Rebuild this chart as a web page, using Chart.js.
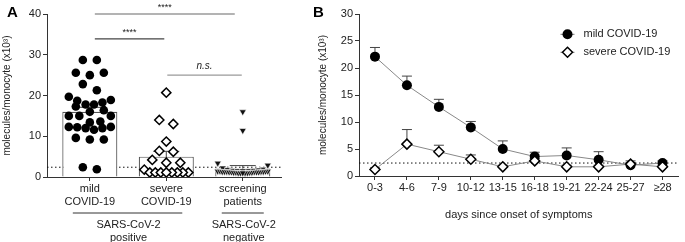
<!DOCTYPE html>
<html><head><meta charset="utf-8">
<script src="https://cdn.jsdelivr.net/npm/chart.js@4.4.1/dist/chart.umd.min.js"></script>
<style>
html,body{margin:0;padding:0;background:#fff;width:685px;height:242px;overflow:hidden;}
#wrapA{position:absolute;left:0;top:0;width:292px;height:242px;}
#wrapB{position:absolute;left:305px;top:0;width:380px;height:242px;}
.panel{position:absolute;font:bold 15px 'Liberation Sans',Arial,sans-serif;color:#000;line-height:15px;}
</style></head><body>
<div id="wrapA"><canvas id="chartA" width="292" height="242"></canvas></div>
<div id="wrapB"><canvas id="chartB" width="380" height="242"></canvas></div>
<div class="panel" style="left:7px;top:4px">A</div>
<div class="panel" style="left:313px;top:4px">B</div>
<script>
// ---------- Panel A data ----------
const groupLabelsA = [['mild','COVID-19'],['severe','COVID-19'],['screening','patients']];
const groupIndexA = [0, 1, 2];
const mildValues = [28.7,28.7,25.6,25.6,25.0,22.8,21.3,19.7,18.9,18.7,18.3,17.8,17.8,17.3,16.4,16.0,15.0,15.0,15.0,13.6,13.4,12.3,12.3,12.2,12.0,12.0,11.6,9.6,9.2,9.2,2.4,1.9];
const severeValues = [20.7,14.0,13.0,8.7,6.4,6.2,4.2,3.5,3.5,1.8,1.1,1.1,1.1,1.1,1.1,1.1,1.1,1.1];
const screeningValues = [16.0,11.4,3.4,2.9,2.2,1.9,1.8,1.7,1.6,1.6,1.5,1.5,1.5,1.4,1.4,1.4,1.4,1.3,1.3,1.3,1.3,1.3,1.2,1.2,1.2,1.2,1.2,1.1,1.1,1.1,1.1,1.0,1.0,1.0,1.0,1.0];
const barMeansA = [16.0, 5.0, 2.1];
const barSemA = [1.1, 1.3, 0.7];
const yTicksA = [0, 10, 20, 30, 40];
const detectionLimit = 2.4;
const comparisonsA = [
  {from:0, to:2, y:40, label:'****'},
  {from:0, to:1, y:33.9, label:'****'},
  {from:1, to:2, y:25, label:'n.s.'}
];
const groupHeadersA = [
  {from:0, to:1, lines:['SARS-CoV-2','positive']},
  {from:2, to:2, lines:['SARS-CoV-2','negative']}
];

// ---------- Panel B data ----------
const dayLabels = ['0-3','4-6','7-9','10-12','13-15','16-18','19-21','22-24','25-27','\u226528'];
const mildMeanB = [22.1,16.8,12.8,9.0,5.0,3.6,3.8,3.0,2.0,2.4];
const mildSemB  = [1.7,1.7,1.4,1.1,1.5,0.8,1.4,1.5,0.8,0.4];
const severeMeanB = [1.2,5.9,4.5,3.1,1.7,2.8,1.7,1.7,2.2,1.7];
const severeSemB  = [0.3,2.7,1.2,0.8,0.3,0.4,0.3,0.3,0.3,0.2];
const yTicksB = [0, 5, 10, 15, 20, 25, 30];
const seriesNamesB = ['mild COVID-19','severe COVID-19'];

const FONT = "'Liberation Sans', Arial, Helvetica, sans-serif";
Chart.defaults.font.family = FONT;
Chart.defaults.color = '#222';
const AXIS = '#333';

function dottedLine(chart, value) {
  const {ctx, chartArea} = chart;
  const y = chart.scales.y.getPixelForValue(value);
  ctx.save();
  ctx.strokeStyle = '#111';
  ctx.lineWidth = 1;
  ctx.setLineDash([1.5, 2.5]);
  ctx.beginPath();
  ctx.moveTo(chartArea.left, y);
  ctx.lineTo(chartArea.right, y);
  ctx.stroke();
  ctx.restore();
}

// ---------- Panel A ----------
const plugA = {
  id: 'annotA',
  beforeDatasetsDraw(chart) { dottedLine(chart, detectionLimit); },
  afterDatasetDraw(chart, args) {
    if (args.index !== 0) return;
    const {ctx} = chart; const xs = chart.scales.x, ys = chart.scales.y;
    ctx.save();
    ctx.strokeStyle = '#444'; ctx.lineWidth = 1;
    barMeansA.forEach((m, i) => {
      const x = xs.getPixelForValue(groupIndexA[i]);
      const yt = ys.getPixelForValue(m + barSemA[i]);
      const yb = ys.getPixelForValue(m - barSemA[i]);
      ctx.beginPath();
      ctx.moveTo(x, yt); ctx.lineTo(x, yb);
      ctx.moveTo(x - 13, yt); ctx.lineTo(x + 13, yt);
      ctx.stroke();
    });
    ctx.restore();
  },
  afterDraw(chart) {
    const {ctx, chartArea} = chart; const xs = chart.scales.x, ys = chart.scales.y;
    ctx.save();
    comparisonsA.forEach((c, k) => {
      const y = ys.getPixelForValue(c.y);
      const x1 = xs.getPixelForValue(c.from) + (k === 2 ? 1 : 5);
      const x2 = xs.getPixelForValue(c.to) - (k === 0 ? 8 : (k === 1 ? 2 : 1));
      ctx.strokeStyle = k === 1 ? '#444' : '#9a9a9a';
      ctx.lineWidth = 1.3;
      ctx.beginPath(); ctx.moveTo(x1, y); ctx.lineTo(x2, y); ctx.stroke();
      ctx.fillStyle = '#222';
      ctx.textAlign = 'center'; ctx.textBaseline = 'middle';
      ctx.font = (c.label === 'n.s.' ? 'italic 10px ' : '9px ') + FONT;
      ctx.fillText(c.label, (x1 + x2) / 2, y - (c.label === 'n.s.' ? 9 : 6));
    });
    const lineY = chartArea.bottom + 36;
    groupHeadersA.forEach(g => {
      const a = xs.getPixelForValue(g.from), b = xs.getPixelForValue(g.to);
      const x1 = g.from === g.to ? a - 21 : a - 17;
      const x2 = g.from === g.to ? b + 21 : b + 16;
      ctx.strokeStyle = '#333'; ctx.lineWidth = 1;
      ctx.beginPath(); ctx.moveTo(x1, lineY); ctx.lineTo(x2, lineY); ctx.stroke();
      ctx.fillStyle = '#222'; ctx.font = '11px ' + FONT;
      ctx.textAlign = 'center'; ctx.textBaseline = 'middle';
      g.lines.forEach((t, j) => ctx.fillText(t, (x1 + x2) / 2 + 1, lineY + 12 + j * 12.5));
    });
    ctx.restore();
  }
};

const chartA = new Chart(document.getElementById('chartA'), {
  type: 'bar',
  data: {
    datasets: [
      { type:'bar', order:10, data: barMeansA.map((m,i)=>({x:groupIndexA[i], y:m})),
        backgroundColor:'#fff', borderColor:'#555', borderWidth:1.2,
        barPercentage:0.72, categoryPercentage:1 },
      { type:'scatter', order:1, data: mildValues.map(v=>({x:0,y:v})),
        pointStyle:'circle', pointRadius:4.3, backgroundColor:'#000', borderColor:'#000', borderWidth:0 },
      { type:'scatter', order:1, data: severeValues.map(v=>({x:1,y:v})),
        pointStyle:'rectRot', pointRadius:4.6, backgroundColor:'#fff', borderColor:'#000', borderWidth:1.5 },
      { type:'scatter', order:1, data: screeningValues.map(v=>({x:2,y:v})),
        pointStyle:'triangle', rotation:180, pointRadius:4, backgroundColor:'#111', borderColor:'#fff', borderWidth:0.6 }
    ]
  },
  options: {
    responsive:false, animation:false, devicePixelRatio:1,
    layout:{padding:{top:14, right:11, left:0, bottom:0}},
    plugins:{legend:{display:false}, tooltip:{enabled:false}},
    scales:{
      x:{ type:'linear', min:-0.56, max:2.5, offset:false,
        afterBuildTicks: s => { s.ticks = groupIndexA.map(v=>({value:v})); },
        afterFit: s => { s.height = 65; },
        ticks:{ callback: v => groupLabelsA[v], font:{size:11}, color:'#222', padding:1, maxRotation:0, autoSkip:false },
        grid:{ drawOnChartArea:false, drawTicks:true, tickLength:4, color:AXIS, offset:false },
        border:{ display:true, color:AXIS, width:1 } },
      y:{ min:0, max:40,
        afterBuildTicks: s => { s.ticks = yTicksA.map(v=>({value:v})); },
        afterFit: s => { s.width = 47; },
        ticks:{ font:{size:11}, color:'#222', padding:2 },
        grid:{ drawOnChartArea:false, tickLength:4, color:AXIS },
        border:{ display:true, color:AXIS, width:1 },
        title:{ display:true, text:'molecules/monocyte (x10\u00b3)', font:{size:10}, color:'#222', padding:{top:1,bottom:0} } }
    }
  },
  plugins:[plugA]
});

function swarmOffsets(values, spacing, maxHalf, rowPx, ys) {
  const order = values.map((v,i)=>i).sort((a,b)=>values[b]-values[a]);
  const rows = []; let cur = null;
  order.forEach(i => {
    const py = ys.getPixelForValue(values[i]);
    if (!cur || py - cur.py0 > rowPx) { cur = {py0:py, idx:[]}; rows.push(cur); }
    cur.idx.push(i);
  });
  const offs = new Array(values.length).fill(0);
  rows.forEach(r => {
    const n = r.idx.length;
    const step = n > 1 ? Math.min(spacing, 2*maxHalf/(n-1)) : 0;
    const slots = Array.from({length:n}, (_,k)=>(k-(n-1)/2)*step);
    const seq = []; let lo = 0, hi = n-1;
    while (lo <= hi) { seq.push(slots[lo]); if (hi !== lo) seq.push(slots[hi]); lo++; hi--; }
    r.idx.forEach((i,k)=>{ offs[i] = seq[k]; });
  });
  return offs;
}
(function applySwarm(){
  const xs = chartA.scales.x, ys = chartA.scales.y;
  const sets = [[mildValues,0,14,21],[severeValues,1,14,22],[screeningValues,2,14,25]];
  sets.forEach(([vals,g,sp,mh], k) => {
    const offs = swarmOffsets(vals, sp, mh, 8, ys);
    const cx = xs.getPixelForValue(groupIndexA[g]);
    chartA.data.datasets[k+1].data = vals.map((v,i)=>({x: xs.getValueForPixel(cx + offs[i]), y: v}));
  });
  chartA.update('none');
})();

// ---------- Panel B ----------
const plugB = {
  id:'annotB',
  beforeDatasetsDraw(chart) {
    dottedLine(chart, detectionLimit);
    const {ctx} = chart; const xs = chart.scales.x, ys = chart.scales.y;
    ctx.save(); ctx.strokeStyle = '#444'; ctx.lineWidth = 1;
    [[mildMeanB, mildSemB],[severeMeanB, severeSemB]].forEach(([m,s]) => {
      m.forEach((v,i) => {
        const x = xs.getPixelForValue(i);
        const y0 = ys.getPixelForValue(v), y1 = ys.getPixelForValue(v + s[i]);
        ctx.beginPath(); ctx.moveTo(x, y0); ctx.lineTo(x, y1);
        ctx.moveTo(x - 5, y1); ctx.lineTo(x + 5, y1); ctx.stroke();
      });
    });
    ctx.restore();
  },
  afterDraw(chart) {
    const {ctx, chartArea} = chart;
    const x0 = chartArea.right - 111, y0 = chartArea.top + 20.3;
    ctx.save();
    seriesNamesB.forEach((name, k) => {
      const y = y0 + k * 18;
      ctx.strokeStyle = '#777'; ctx.lineWidth = 1;
      ctx.beginPath(); ctx.moveTo(x0 - 7, y); ctx.lineTo(x0 + 7, y); ctx.stroke();
      if (k === 0) {
        ctx.fillStyle = '#000';
        ctx.beginPath(); ctx.arc(x0, y, 5, 0, Math.PI*2); ctx.fill();
      } else {
        ctx.fillStyle = '#fff'; ctx.strokeStyle = '#000'; ctx.lineWidth = 1.5;
        ctx.beginPath(); ctx.moveTo(x0, y-5); ctx.lineTo(x0+5, y); ctx.lineTo(x0, y+5); ctx.lineTo(x0-5, y); ctx.closePath();
        ctx.fill(); ctx.stroke();
      }
      ctx.fillStyle = '#222'; ctx.font = '11px ' + FONT;
      ctx.textAlign = 'left'; ctx.textBaseline = 'middle';
      ctx.fillText(name, x0 + 16, y);
    });
    ctx.restore();
  }
};

new Chart(document.getElementById('chartB'), {
  type:'line',
  data:{
    labels: dayLabels,
    datasets:[
      { label:seriesNamesB[0], data:mildMeanB, order:2, borderColor:'#888', borderWidth:1,
        pointStyle:'circle', pointRadius:5, pointBackgroundColor:'#000', pointBorderColor:'#000', pointBorderWidth:0, tension:0 },
      { label:seriesNamesB[1], data:severeMeanB, order:1, borderColor:'#888', borderWidth:1,
        pointStyle:'rectRot', pointRadius:5, pointBackgroundColor:'#fff', pointBorderColor:'#000', pointBorderWidth:1.5, tension:0 }
    ]
  },
  options:{
    responsive:false, animation:false, devicePixelRatio:1,
    layout:{padding:{top:14, right:1, left:0, bottom:0}},
    plugins:{legend:{display:false}, tooltip:{enabled:false}},
    scales:{
      x:{ type:'category', offset:true,
        afterFit: s => { s.height = 66; },
        ticks:{ font:{size:11}, color:'#222', padding:1, maxRotation:0, autoSkip:false },
        grid:{ drawOnChartArea:false, drawTicks:true, tickLength:4, color:AXIS, offset:false },
        border:{ display:true, color:AXIS, width:1 },
        title:{ display:true, text:'days since onset of symptoms', font:{size:11}, color:'#222', padding:{top:0,bottom:20} } },
      y:{ min:0, max:30,
        afterBuildTicks: s => { s.ticks = yTicksB.map(v=>({value:v})); },
        afterFit: s => { s.width = 54; },
        ticks:{ font:{size:11}, color:'#222', padding:2 },
        grid:{ drawOnChartArea:false, tickLength:4, color:AXIS },
        border:{ display:true, color:AXIS, width:1 },
        title:{ display:true, text:'molecules/monocyte (x10\u00b3)', font:{size:10}, color:'#222', padding:{top:12,bottom:0} } }
    }
  },
  plugins:[plugB]
});
</script>
</body></html>
